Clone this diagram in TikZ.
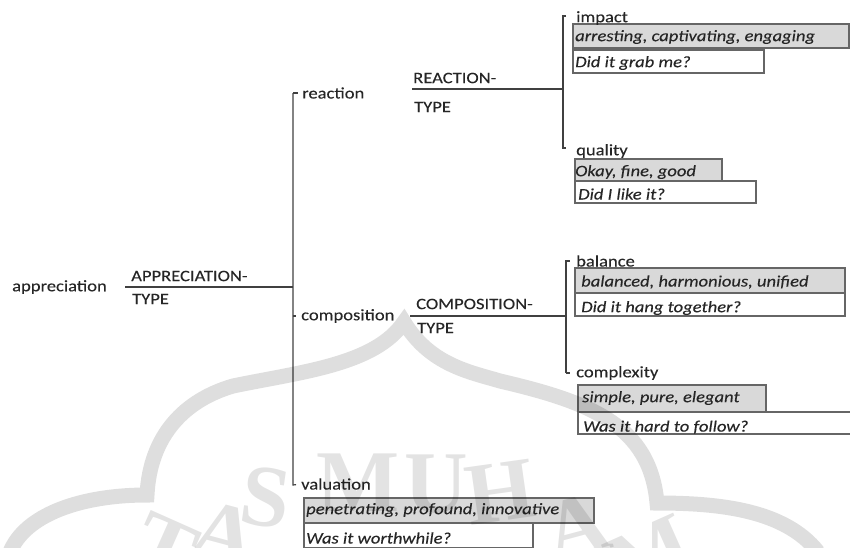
\documentclass[tikz,border=0pt]{standalone}
\usepackage{fontspec}
\setmainfont[FakeStretch=1.16,FakeBold=0.15]{Carlito}
\newfontfamily\stampfont{Liberation Serif}
\newlength{\du}
\setlength{\du}{1pt}
\definecolor{boxgray}{rgb}{0.850000, 0.850000, 0.850000}
\definecolor{dialinecolor}{rgb}{0.250000, 0.250000, 0.250000}
\tikzset{
  label/.style={anchor=west,inner sep=0pt,font=\fontsize{16\du}{18\du}\selectfont,text=black!85},
  gloss/.style={anchor=west,inner sep=0pt,font=\fontsize{16\du}{18\du}\selectfont\itshape,text=black!85},
  grey box/.style={draw=dialinecolor!80,line width=1.2\du,fill=boxgray},
  white box/.style={draw=dialinecolor!80,line width=1.2\du,fill=white},
  sysline/.style={draw=dialinecolor,line width=1.2\du},
  stamp/.style={black,opacity=0.13},
  stamptext/.style={inner sep=0pt,font=\stampfont\bfseries\fontsize{88\du}{88\du}\selectfont,text=black,text opacity=0.11}
}
\begin{document}
\begin{tikzpicture}
\pgftransformyscale{-1}
\useasboundingbox (0\du,0\du) rectangle (850\du,547\du);
% boxes
\draw[grey box] (573\du,24\du) rectangle (849\du,48\du);
\draw[white box] (573\du,50\du) rectangle (764\du,73\du);
\draw[grey box] (575\du,159\du) rectangle (722\du,181\du);
\draw[white box] (575\du,181\du) rectangle (756\du,203\du);
\draw[grey box] (575\du,268\du) rectangle (845\du,293\du);
\draw[white box] (575\du,293\du) rectangle (845\du,316\du);
\draw[grey box] (578\du,385\du) rectangle (766\du,412\du);
\draw[white box] (578\du,412\du) rectangle (851\du,434\du);
\draw[grey box] (304\du,498\du) rectangle (594\du,523\du);
\draw[white box] (304\du,523\du) rectangle (533\du,548\du);
% gloss
\node[gloss] (arresting) at (575\du,37\du){arresting, captivating, engaging};
\node[gloss] (grab) at (575\du,63\du){Did it grab me?};
\node[gloss] (okay) at (575\du,172\du){Okay, fine, good};
\node[gloss] (like) at (578\du,194\du){Did I like it?};
\node[gloss] (balanced) at (581\du,282\du){balanced, harmonious, unified};
\node[gloss] (hang) at (581\du,308\du){Did it hang together?};
\node[gloss] (simple) at (582\du,398\du){simple, pure, elegant};
\node[gloss] (follow) at (583\du,427\du){Was it hard to follow?};
\node[gloss] (penetrating) at (306\du,510\du){penetrating, profound, innovative};
\node[gloss] (worthwhile) at (306\du,538\du){Was it worthwhile?};
% features
\node[label] (appreciation) at (12\du,287\du){appreciation};
\node[label] (apptype) at (131\du,276\du){APPRECIATION-};
\node[label] (apptype2) at (132\du,299\du){TYPE};
\node[label] (reaction) at (302\du,93\du){reaction};
\node[label] (composition) at (301\du,316\du){composition};
\node[label] (valuation) at (301\du,484\du){valuation};
\node[label] (reacttype) at (413\du,78\du){REACTION-};
\node[label] (reacttype2) at (414\du,107\du){TYPE};
\node[label] (comptype) at (416\du,304\du){COMPOSITION-};
\node[label] (comptype2) at (417\du,328\du){TYPE};
\node[label] (impact) at (576\du,18\du){impact};
\node[label] (quality) at (576\du,151\du){quality};
\node[label] (balance) at (576\du,261\du){balance};
\node[label] (complexity) at (576\du,373\du){complexity};
% system lines
\coordinate (appstart) at (125\du,287\du);
\coordinate (appjoin) at (293\du,287\du);
\coordinate (apptop) at (293\du,93\du);
\coordinate (appmid) at (293\du,316\du);
\coordinate (appbot) at (293\du,485\du);
\draw[sysline] (appstart)--(appjoin);
\draw[sysline,shorten >=5\du] (apptop)--(appbot)--(valuation.west);
\draw[sysline,shorten >=4\du] (apptop)--(reaction.west);
\draw[sysline,shorten >=5\du] (appmid)--(composition.west);
\coordinate (reactstart) at (412\du,89\du);
\coordinate (reactjoin) at (563\du,89\du);
\coordinate (reacttop) at (563\du,16\du);
\coordinate (reactbot) at (563\du,148\du);
\draw[sysline] (reactstart)--(reactjoin);
\draw[sysline] (566\du,16\du)--(reacttop)--(reactbot)--(566\du,148\du);
\coordinate (compstart) at (410\du,316\du);
\coordinate (compjoin) at (566\du,316\du);
\coordinate (comptop) at (566\du,261\du);
\coordinate (compbot) at (566\du,373\du);
\draw[sysline] (compstart)--(compjoin);
\draw[sysline,shorten >=6\du] (compbot)--(complexity.west);
\draw[sysline,shorten >=6\du] (compbot)--(comptop)--(balance.west);
% watermark
\draw[stamp,line width=15\du,line join=miter]
  (10\du,552\du) .. controls (25\du,515\du) and (80\du,495\du) .. (147\du,495\du)
  .. controls (150\du,435\du) and (185\du,400\du) .. (233\du,386\du)
  .. controls (300\du,372\du) and (375\du,365\du) .. (404\du,322\du)
  .. controls (430\du,365\du) and (470\du,372\du) .. (500\du,381\du)
  .. controls (590\du,402\du) and (650\du,425\du) .. (657\du,503\du)
  .. controls (720\du,503\du) and (785\du,510\du) .. (818\du,552\du);
\node[stamptext,rotate=-24] (wmt) at (165\du,548\du){T};
\node[stamptext,rotate=-15] (wma) at (225\du,535\du){A};
\node[stamptext,rotate=-8] (wms) at (266\du,497\du){S};
\node[stamptext] (wmm) at (358\du,483\du){M};
\node[stamptext] (wmu) at (436\du,484\du){U};
\node[stamptext,rotate=8] (wmh) at (500\du,492\du){H};
\node[stamptext,rotate=15] (wma2) at (577\du,527\du){A};
\node[stamptext,rotate=24] (wmm2) at (650\du,555\du){M};
\end{tikzpicture}
\end{document}
